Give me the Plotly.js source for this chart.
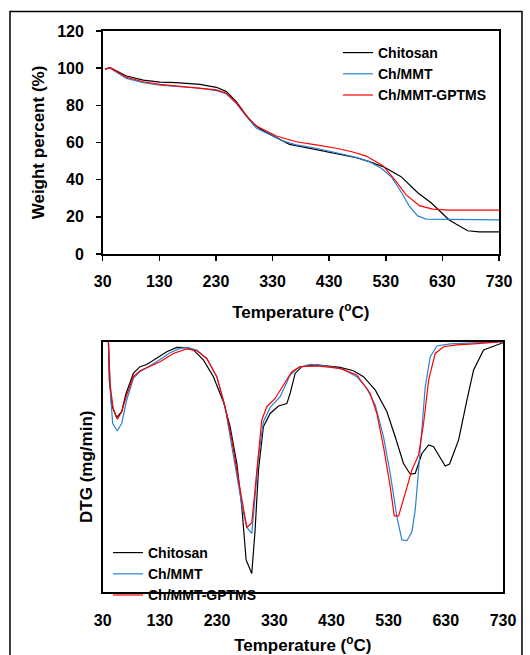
<!DOCTYPE html>
<html>
<head>
<meta charset="utf-8">
<script src="https://cdn.plot.ly/plotly-3.0.1.min.js"></script>
<style>html,body{margin:0;padding:0;background:#fff;}#chart{width:530px;height:655px;}</style>
</head>
<body>
<div id="chart"></div>
<script>
// ---------- TGA (weight percent) ----------
const tgaChitosanT = [34, 43, 72, 101.6, 131, 160, 201.6, 231, 248.6, 266, 281, 295.6, 313, 336.8, 360, 389.7, 419, 448.5, 478, 501, 527.8, 557, 586.5, 610, 624.7, 642, 654, 674.7, 695, 730];
const tgaChitosanW = [99.5, 100.3, 95.8, 93.6, 92.5, 92.2, 91.3, 89.7, 87.4, 82, 75.7, 70, 66.4, 62.8, 59, 57.2, 55.4, 53.8, 51.8, 49.7, 46.7, 41.6, 33, 27.6, 23.3, 18.3, 16.1, 12.5, 11.9, 11.9];

const tgaMMTT = [34, 43, 72, 101.6, 131, 160, 201.6, 231, 248.6, 266, 284, 301.6, 325, 348.5, 372, 407, 442.6, 478, 501, 522, 539.6, 557, 572, 586.5, 601, 730];
const tgaMMTW = [99.5, 100, 94.5, 92.2, 90.8, 90, 89.2, 87.9, 86.1, 81.1, 73.9, 67.6, 64, 60.8, 58.7, 56.9, 54.5, 52, 49.7, 46.1, 41.6, 33.5, 25.5, 20.5, 18.8, 18.4];

const tgaGPTMST = [34, 43, 72, 101.6, 131, 160, 201.6, 231, 248.6, 266, 284, 301.6, 336.8, 372, 407, 442.6, 472, 495.5, 525, 548.5, 566, 589.5, 613, 642, 730];
const tgaGPTMSW = [99.5, 100.3, 95.1, 92.7, 91.3, 90.4, 89.5, 88.3, 86.5, 81.4, 74.3, 68.9, 63.5, 60.4, 58.7, 56.9, 54.9, 52.7, 47.5, 38.9, 31.8, 26, 24.2, 23.6, 23.6];

// ---------- DTG (arbitrary units, 0 = top of frame) ----------
const dtgChitosanT = [40, 41.6, 45.7, 54.5, 63.2, 70.8, 83.6, 95.3, 107, 124.5, 142, 159.5, 177, 188.6, 206, 223.6, 241, 252.8, 264.5, 273.2, 280.8, 290.7, 296.5, 302.4, 311, 322.8, 337.4, 352, 357.8, 366.5, 378.2, 404.4, 445, 468.6, 486, 506.5, 527, 541.5, 556, 567.8, 576.5, 588.2, 600, 608.6, 620.3, 629, 636.6, 652.4, 667, 678.6, 696, 730];
const dtgChitosanD = [0, -15.3, -25.3, -30.3, -28, -20.7, -12.7, -10, -9.1, -6.7, -4, -2.3, -2.4, -3.3, -7.3, -14, -24, -34, -48.7, -66, -87.3, -92.7, -75.3, -51.3, -34, -28.7, -25.7, -24.7, -20.7, -12.7, -10, -9.3, -10.3, -11.6, -14, -19.3, -28, -38, -48.7, -53, -52.7, -44.7, -41.3, -42, -46.7, -49.7, -48.9, -39.3, -23.3, -11.3, -3.3, -0.4];

const dtgMMTT = [40, 44, 47.5, 55.6, 63.2, 72, 83.6, 95.3, 124.5, 147.8, 165.3, 177, 194.5, 212, 229.5, 244, 252.8, 264.5, 275, 282, 290.7, 296.5, 302.4, 311, 322.8, 340.3, 357.8, 372.4, 392.8, 427.8, 451, 474.4, 492, 506.5, 521, 532.8, 544.4, 553.2, 562, 570.7, 576.5, 582.4, 588.2, 594, 602.8, 614.4, 637.8, 678.6, 730];
const dtgMMTD = [0, -22, -32.7, -35.6, -32.7, -23.3, -14.7, -12, -8, -4.4, -2.7, -2.3, -3.3, -6.7, -14, -26, -38, -54, -67.3, -74.3, -76.7, -62, -46, -32, -26.3, -22, -13.3, -10.3, -9.1, -10, -11.1, -14, -18.7, -25.3, -38, -52.7, -70, -79.3, -79.6, -76, -67.3, -51.3, -34, -18, -6, -1.7, -0.9, -0.4, 0];

const dtgGPTMST = [40, 42.8, 48.6, 55.6, 63.2, 72, 83.6, 95.3, 130.3, 153.6, 177, 194.5, 212, 229.5, 244, 255.7, 267.4, 276.1, 282, 290.7, 296.5, 302.4, 308.2, 317, 331.5, 346.1, 360.7, 375.3, 404.4, 445, 474.4, 497.8, 509.4, 521, 532.8, 539.8, 547.4, 559, 570.7, 582.4, 591.1, 600, 611.5, 626.1, 649.4, 678.6, 707.8, 730];
const dtgGPTMSD = [0, -16.7, -27.3, -31, -28, -21.3, -14, -11.6, -8, -4.7, -2.9, -3.6, -6.7, -14, -26, -39.3, -55.3, -67.3, -74.3, -72.4, -58, -43.3, -31.3, -26, -22.7, -17.3, -12, -10, -9.7, -10.7, -13.3, -20.7, -28.7, -42, -58, -69.7, -69.7, -60.7, -51.3, -45.3, -32.7, -15.3, -4.7, -2, -1.3, -0.9, -0.4, 0];

const seriesNames = ['Chitosan', 'Ch/MMT', 'Ch/MMT-GPTMS'];
const seriesColors = ['#000000', '#2a80d2', '#ff0000'];
const xTicks = [30, 130, 230, 330, 430, 530, 630, 730];
const yTicksTop = [0, 20, 40, 60, 80, 100, 120];

const FONT = 'Liberation Sans, Arial, sans-serif';
const W = 530, H = 655;
const px = v => v / W;
const py = v => 1 - v / H;

const tga = [[tgaChitosanT, tgaChitosanW], [tgaMMTT, tgaMMTW], [tgaGPTMST, tgaGPTMSW]];
const dtg = [[dtgChitosanT, dtgChitosanD], [dtgMMTT, dtgMMTD], [dtgGPTMST, dtgGPTMSD]];

const traces = [];
tga.forEach((s, i) => traces.push({
  x: s[0], y: s[1], type: 'scatter', mode: 'lines', name: seriesNames[i],
  line: {color: seriesColors[i], width: 1.2}, xaxis: 'x', yaxis: 'y', legend: 'legend'
}));
dtg.forEach((s, i) => traces.push({
  x: s[0], y: s[1], type: 'scatter', mode: 'lines', name: seriesNames[i],
  line: {color: seriesColors[i], width: 1.2}, xaxis: 'x2', yaxis: 'y2', legend: 'legend2'
}));

const tickFont = {family: FONT, size: 16, color: '#000', weight: 'bold'};
const titleFont = {family: FONT, size: 17, color: '#000', weight: 'bold'};
const legendFont = {family: FONT, size: 14, color: '#000', weight: 'bold'};

const layout = {
  width: W, height: H,
  margin: {l: 0, r: 0, t: 0, b: 0},
  paper_bgcolor: '#fff', plot_bgcolor: '#fff',
  font: {family: FONT, color: '#000'},
  showlegend: true,
  xaxis: {
    domain: [px(102.7), px(499)], anchor: 'y',
    range: [30, 730], tickvals: xTicks, ticktext: xTicks.map(String),
    showline: true, linecolor: '#000', linewidth: 1.6, mirror: true,
    ticks: 'outside', ticklen: 5, tickwidth: 1.5, tickcolor: '#000',
    showgrid: false, zeroline: false, tickfont: tickFont, ticklabelstandoff: 7,
    title: {text: 'Temperature (<sup>o</sup>C)', font: titleFont, standoff: 17}
  },
  yaxis: {
    domain: [py(254), py(31)], anchor: 'x',
    range: [0, 120], tickvals: yTicksTop, ticktext: yTicksTop.map(String),
    showline: true, linecolor: '#000', linewidth: 1.6, mirror: true,
    ticks: 'outside', ticklen: 5, tickwidth: 1.5, tickcolor: '#000',
    showgrid: false, zeroline: false, tickfont: tickFont, ticklabelstandoff: 9,
    title: {text: 'Weight percent (%)', font: titleFont, standoff: 8}
  },
  xaxis2: {
    domain: [px(102.7), px(503)], anchor: 'y2',
    range: [30, 730], tickvals: xTicks, ticktext: xTicks.map(String),
    showline: true, linecolor: '#000', linewidth: 2, mirror: true,
    ticks: '', showgrid: false, zeroline: false, tickfont: tickFont, ticklabelstandoff: 13,
    title: {text: 'Temperature (<sup>o</sup>C)', font: titleFont, standoff: 22}
  },
  yaxis2: {
    domain: [py(591.7), py(341.7)], anchor: 'x2',
    range: [-100, 0], showticklabels: false,
    showline: true, linecolor: '#000', linewidth: 2, mirror: true,
    ticks: '', showgrid: false, zeroline: false,
    title: {text: 'DTG (mg/min)', font: titleFont, standoff: 4}
  },
  legend: {
    x: px(338), y: py(37), xanchor: 'left', yanchor: 'top',
    bgcolor: 'rgba(0,0,0,0)', borderwidth: 0,
    font: legendFont, tracegroupgap: 0, itemwidth: 30
  },
  legend2: {
    x: px(108), y: py(537), xanchor: 'left', yanchor: 'top',
    bgcolor: 'rgba(0,0,0,0)', borderwidth: 0,
    font: legendFont, tracegroupgap: 0, itemwidth: 30
  },
  shapes: [{
    type: 'rect', xref: 'paper', yref: 'paper',
    x0: px(10), x1: px(522), y0: py(670), y1: py(11.5),
    line: {color: '#000', width: 1.5}, fillcolor: 'rgba(0,0,0,0)', layer: 'above'
  }]
};

Plotly.newPlot('chart', traces, layout, {displayModeBar: false, staticPlot: true});
</script>
</body>
</html>
